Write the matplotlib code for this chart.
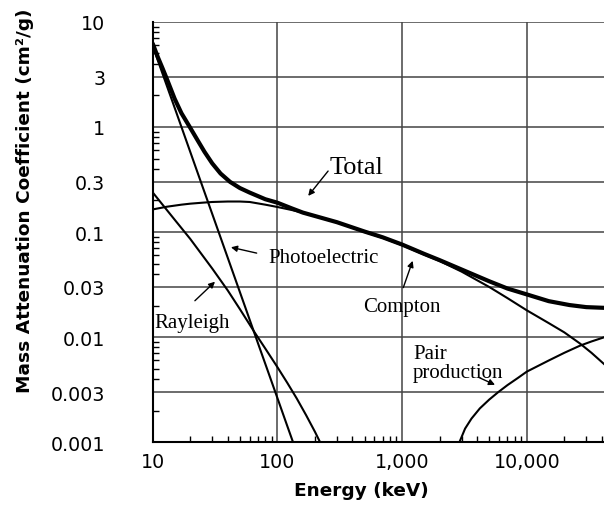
import numpy as np
import matplotlib
matplotlib.use('Agg')
import matplotlib.pyplot as plt
from matplotlib.ticker import FixedLocator, LogLocator, NullFormatter

# energies in keV, mass attenuation coefficients in cm^2/g
total_e = [10, 11, 12, 13, 15, 17, 20, 23, 26, 30, 35, 41.7, 50, 60, 80, 100,
           130, 160, 200, 300, 500, 700, 1000, 1500, 2000, 3000, 5000, 7000,
           10000, 15000, 22000, 30000, 42000]
total_mu = [6.2, 4.6, 3.6, 2.85, 1.85, 1.35, 0.98, 0.74, 0.58, 0.45, 0.36, 0.30,
            0.262, 0.237, 0.205, 0.19, 0.168, 0.153, 0.142, 0.124, 0.101, 0.089,
            0.076, 0.062, 0.054, 0.044, 0.034, 0.029, 0.0255, 0.022, 0.0202,
            0.0193, 0.019]

compton_e = [10, 13, 17, 20, 25, 30, 40, 50, 60, 80, 100, 130, 160, 200, 300,
             500, 700, 1000, 1500, 2000, 3000, 5000, 7000, 10000, 15000, 20000,
             26700, 33000, 42000]
compton_mu = [0.164, 0.174, 0.182, 0.186, 0.190, 0.193, 0.195, 0.195, 0.193,
              0.182, 0.173, 0.162, 0.153, 0.142, 0.124, 0.100, 0.088, 0.075,
              0.061, 0.053, 0.042, 0.030, 0.0235, 0.0180, 0.0136, 0.0111,
              0.0087, 0.0071, 0.0055]

photo_e = [10, 12, 15, 20, 25, 30, 40, 50, 60, 70, 80, 100, 120, 140]
photo_mu = [5.9, 3.2, 1.52, 0.579, 0.274, 0.149, 0.0568, 0.0269, 0.0146,
            0.0087, 0.00557, 0.00264, 0.00143, 0.000855]

rayleigh_e = [10, 15, 20, 30, 40, 50, 66, 80, 100, 120, 143, 170, 200, 226, 260]
rayleigh_mu = [0.238, 0.131, 0.086, 0.045, 0.0278, 0.0185, 0.0110, 0.00779,
               0.00519, 0.00368, 0.00261, 0.00181, 0.00126, 0.00094, 0.00066]

pair_e = [2400, 2600, 2900, 3200, 3600, 4200, 5000, 5900, 7000, 8500, 10000,
          15000, 20000, 26700, 33000, 42000]
pair_mu = [0.0004, 0.00062, 0.00102, 0.00135, 0.00168, 0.0021, 0.00255,
           0.003, 0.0035, 0.0041, 0.0047, 0.006, 0.0071, 0.0083, 0.0091, 0.010]

x_ticks = [10, 100, 1000, 10000]
x_labels = ['10', '100', '1,000', '10,000']
y_ticks = [0.001, 0.003, 0.01, 0.03, 0.1, 0.3, 1, 3, 10]
y_labels = ['0.001', '0.003', '0.01', '0.03', '0.1', '0.3', '1', '3', '10']

fig = plt.figure(figsize=(6.04, 5.06), dpi=100)
ax = fig.add_axes([0.2528, 0.1239, 0.7472, 0.8312])

ax.plot(total_e, total_mu, color='black', lw=3.0, solid_capstyle='round')
ax.plot(compton_e, compton_mu, color='black', lw=1.5)
ax.plot(photo_e, photo_mu, color='black', lw=1.5)
ax.plot(rayleigh_e, rayleigh_mu, color='black', lw=1.5)
ax.plot(pair_e, pair_mu, color='black', lw=1.5)

ax.set_xscale('log')
ax.set_yscale('log')
ax.set_xlim(10, 41600)
ax.set_ylim(0.001, 10)

ax.xaxis.set_major_locator(FixedLocator(x_ticks))
ax.set_xticklabels(x_labels)
ax.yaxis.set_major_locator(FixedLocator(y_ticks))
ax.set_yticklabels(y_labels)
ax.xaxis.set_minor_locator(LogLocator(base=10, subs=np.arange(2, 10)))
ax.yaxis.set_minor_locator(LogLocator(base=10, subs=np.arange(2, 10)))
ax.xaxis.set_minor_formatter(NullFormatter())
ax.yaxis.set_minor_formatter(NullFormatter())

ax.grid(True, which='major', color='#444444', lw=1.1)
ax.tick_params(which='major', direction='in', length=0, labelsize=13.7)
ax.tick_params(axis='y', which='major', pad=34)
ax.tick_params(axis='x', which='major', pad=7)
ax.tick_params(which='minor', direction='in', length=4, width=1)
for side in ['top', 'right']:
    ax.spines[side].set_visible(False)
for side in ['left', 'bottom']:
    ax.spines[side].set_linewidth(1.5)

fig.text(25 / 604, 1 - 201 / 506, 'Mass Attenuation Coefficient (cm\u00b2/g)',
         rotation=90, ha='center', va='center', fontsize=13.3, fontweight='bold')
fig.text(361.5 / 604, 1 - 491 / 506, 'Energy (keV)', ha='center', va='center',
         fontsize=13.3, fontweight='bold')

serif = 'Liberation Serif'
ax.text(264, 0.364, 'Total', family=serif, fontsize=19, ha='left', va='baseline')
ax.text(84.5, 0.0516, 'Photoelectric', family=serif, fontsize=15, ha='left', va='baseline')
ax.text(10.3, 0.01259, 'Rayleigh', family=serif, fontsize=15, ha='left', va='baseline')
ax.text(486, 0.01773, 'Compton', family=serif, fontsize=15, ha='left', va='baseline')
ax.text(1227, 0.0063, 'Pair', family=serif, fontsize=15, ha='left', va='baseline')
ax.text(1227, 0.00422, 'production', family=serif, fontsize=15, ha='left', va='baseline')

arrow = dict(arrowstyle='-|>', color='black', lw=1.0, mutation_scale=9,
             shrinkA=0, shrinkB=0)
ax.annotate('', xy=(176.6, 0.2205), xytext=(255, 0.38), arrowprops=arrow)
ax.annotate('', xy=(42.4, 0.0716), xytext=(68.2, 0.063), arrowprops=arrow)
ax.annotate('', xy=(31.6, 0.0337), xytext=(21.8, 0.0222), arrowprops=arrow)
ax.annotate('', xy=(1216, 0.0532), xytext=(1022, 0.0296), arrowprops=arrow)
ax.annotate('', xy=(5560, 0.00352), xytext=(4140, 0.00413), arrowprops=arrow)

fig.savefig('out.png', dpi=100)
